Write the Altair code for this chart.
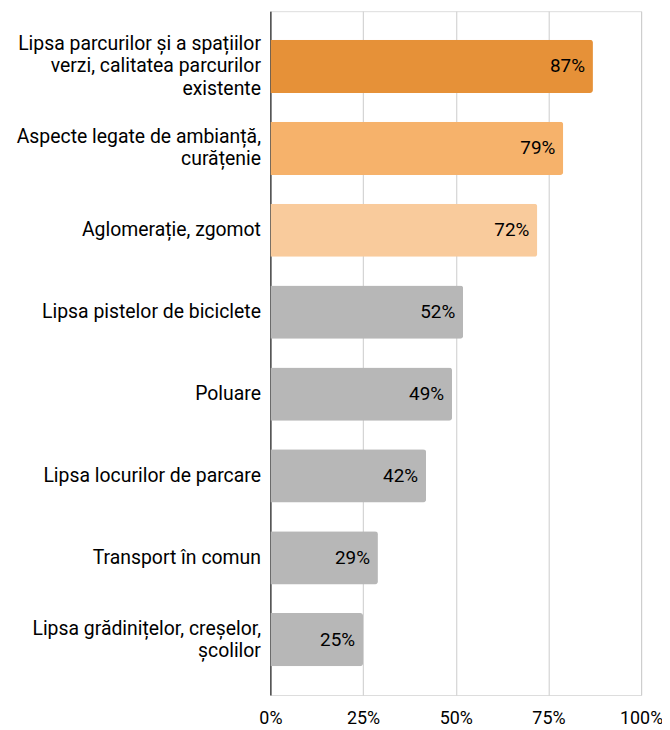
import altair as alt
import pandas as pd

categories = [
    "Lipsa parcurilor și a spațiilor|verzi, calitatea parcurilor|existente",
    "Aspecte legate de ambianță,|curățenie",
    "Aglomerație, zgomot",
    "Lipsa pistelor de biciclete",
    "Poluare",
    "Lipsa locurilor de parcare",
    "Transport în comun",
    "Lipsa grădinițelor, creșelor,|școlilor",
]
values = [87, 79, 72, 52, 49, 42, 29, 25]
tick_values = [0, 25, 50, 75, 100]

bar_colors = ["#E69138", "#F6B26B", "#F9CB9C", "#B7B7B7", "#B7B7B7", "#B7B7B7", "#B7B7B7", "#B7B7B7"]

df = pd.DataFrame({"category": categories, "value": values})
df["label"] = df["value"].astype(str) + "%"

FONT = "Roboto"
LINE_H = 22.5

y_enc = alt.Y(
    "category:N",
    sort=categories,
    scale=alt.Scale(paddingInner=0.35, paddingOuter=0.35),
    axis=alt.Axis(
        title=None,
        labelExpr="split(datum.value, '|')",
        labelFont=FONT,
        labelFontSize=19.5,
        labelFontWeight="normal",
        labelColor="#000000",
        labelAlign="right",
        labelBaseline="middle",
        labelLineHeight=LINE_H,
        labelOffset={"expr": f"-(length(split(datum.value, '|')) - 1) * {LINE_H / 2}"},
        labelPadding=10,
        labelLimit=400,
        ticks=False,
        domain=True,
        domainColor="#000000",
        domainWidth=1,
        grid=False,
    ),
)

x_enc = alt.X(
    "value:Q",
    scale=alt.Scale(domain=[0, 100], nice=False),
    axis=alt.Axis(
        title=None,
        values=tick_values,
        labelExpr="datum.value + '%'",
        labelFont=FONT,
        labelFontSize=18,
        labelColor="#000000",
        labelPadding=15,
        labelFlush=False,
        ticks=False,
        domain=False,
        grid=True,
        gridColor="#CCCCCC",
        gridWidth=1,
    ),
)

bars = alt.Chart(df).mark_bar(cornerRadiusEnd=3).encode(
    x=x_enc,
    y=y_enc,
    color=alt.Color("category:N", scale=alt.Scale(domain=categories, range=bar_colors), legend=None),
)

texts = alt.Chart(df).mark_text(
    align="right", baseline="middle", dx=-8, font=FONT, fontSize=19, color="#000000"
).encode(
    x=alt.X("value:Q"),
    y=alt.Y("category:N", sort=categories),
    text="label:N",
)

chart = (
    alt.layer(bars, texts)
    .properties(
        width=373,
        height=688,
        autosize=alt.AutoSizeParams(type="none"),
        padding={"left": 264, "top": 1, "right": 21, "bottom": 30},
    )
    .configure_view(stroke=None)
    .configure(background="#FFFFFF")
)

chart.save("out.html", embed_options={"renderer": "svg", "actions": False})
